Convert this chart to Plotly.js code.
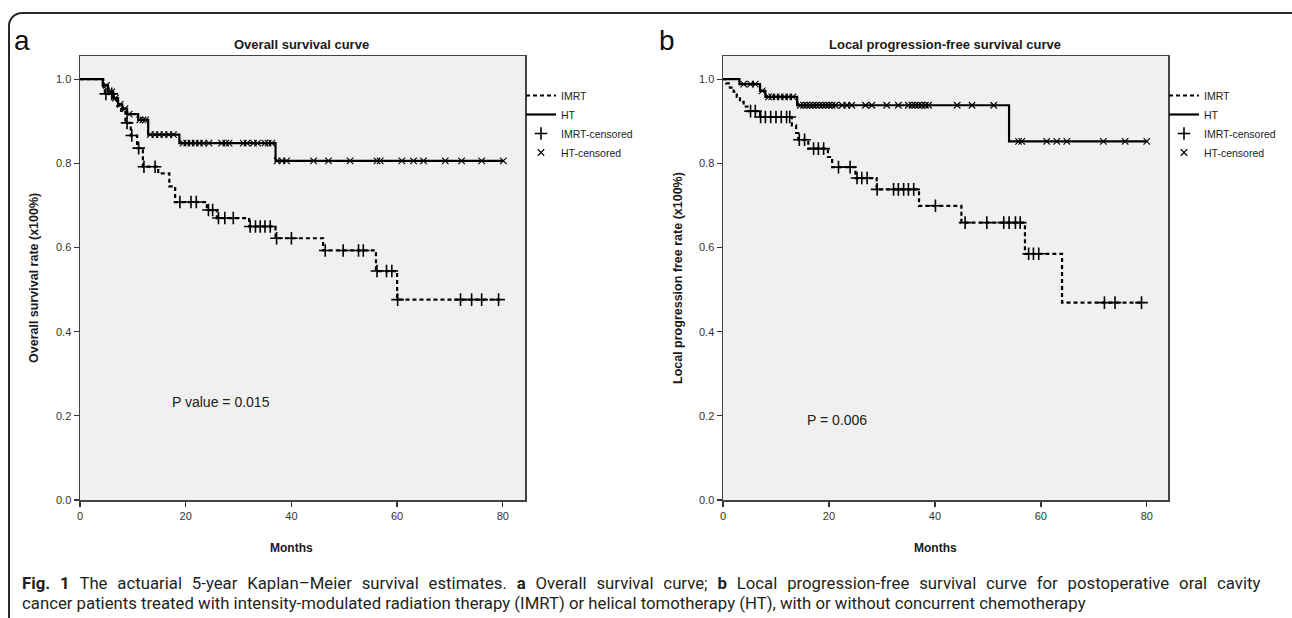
<!DOCTYPE html>
<html>
<head>
<meta charset="utf-8">
<script src="https://cdn.plot.ly/plotly-3.0.1.min.js"></script>
<style>
  html, body { margin:0; padding:0; width:1292px; height:618px; overflow:hidden; background:#fff; }
  #frame { position:absolute; left:8px; top:12px; width:1400px; height:700px; border:2px solid #2a2a2a; border-radius:14px; box-sizing:border-box; }
  #chart { position:absolute; left:0; top:0; width:1292px; height:618px; }
</style>
</head>
<body>
<div id="frame"></div>
<div id="chart"></div>
<script>
// ---- Data: (a) Overall survival ----
const osImrtTimes = [0, 4.4, 4.7, 6.4, 7.0, 7.8, 8.6, 9.6, 10.8, 11.9, 14.8, 16.9, 18.0, 24.0, 25.9, 32.0, 37.0, 46.0, 56.0, 60.0, 79.4];
const osImrtSurv  = [1.0, 0.982, 0.965, 0.950, 0.937, 0.922, 0.896, 0.866, 0.836, 0.792, 0.776, 0.745, 0.708, 0.689, 0.670, 0.650, 0.622, 0.593, 0.544, 0.476, 0.476];
const osImrtCensored = [4.9, 6.0, 8.9, 9.8, 11.1, 12.1, 14.2, 18.9, 21.0, 22.0, 24.3, 25.1, 26.2, 27.4, 29.0, 32.2, 33.2, 34.1, 35.0, 36.0, 37.2, 40.0, 46.4, 49.8, 52.7, 53.6, 56.2, 58.0, 59.0, 60.1, 72.0, 74.1, 76.0, 79.2];

const osHtTimes = [0, 4.3, 5.3, 6.3, 7.2, 8.0, 8.9, 11.0, 12.9, 18.8, 37.0, 80.1];
const osHtSurv  = [1.0, 0.985, 0.970, 0.955, 0.940, 0.930, 0.917, 0.903, 0.868, 0.848, 0.806, 0.806];
const osHtCensored = [5.0, 6.0, 6.7, 7.6, 8.5, 9.3, 11.3, 11.9, 12.4, 13.3, 14.2, 15.0, 15.9, 16.8, 17.7, 19.5, 20.2, 21.0, 21.8, 22.6, 23.4, 24.4, 26.8, 27.6, 28.2, 30.9, 31.6, 32.8, 33.6, 35.0, 35.6, 36.3, 37.3, 38.2, 39.1, 44.2, 47.0, 51.1, 56.2, 56.8, 60.9, 63.1, 65.0, 69.1, 72.2, 76.0, 80.1];

// ---- Data: (b) Local progression-free survival ----
const lpImrtTimes = [0, 0.6, 1.3, 2.0, 2.6, 3.2, 3.9, 4.6, 7.0, 13.0, 13.8, 14.2, 16.1, 19.8, 20.6, 25.0, 29.0, 37.0, 45.0, 57.0, 64.0, 79.4];
const lpImrtSurv  = [1.0, 0.99, 0.98, 0.97, 0.958, 0.946, 0.935, 0.924, 0.910, 0.890, 0.872, 0.856, 0.835, 0.815, 0.791, 0.765, 0.738, 0.699, 0.659, 0.585, 0.469, 0.469];
const lpImrtCensored = [5.2, 6.1, 7.1, 8.0, 9.0, 10.0, 11.0, 12.0, 12.6, 14.4, 15.4, 17.1, 18.0, 19.0, 21.8, 24.0, 25.3, 26.2, 27.2, 29.1, 32.2, 33.1, 34.1, 35.0, 36.0, 40.1, 45.7, 49.8, 53.0, 54.0, 55.2, 56.1, 57.7, 58.6, 59.6, 72.0, 74.0, 79.0];

const lpHtTimes = [0, 3.1, 7.0, 8.0, 14.0, 54.0, 80.0];
const lpHtSurv  = [1.0, 0.988, 0.972, 0.958, 0.938, 0.852, 0.852];
const lpHtCensored = [3.9, 5.2, 6.1, 7.4, 8.6, 9.2, 10.0, 10.8, 11.6, 12.4, 13.2, 14.6, 15.2, 15.8, 16.4, 17.0, 17.6, 18.2, 18.8, 19.4, 20.0, 20.6, 21.2, 22.5, 23.4, 24.3, 26.9, 28.1, 30.9, 33.1, 35.0, 35.7, 36.3, 36.9, 37.5, 38.2, 38.8, 44.2, 47.0, 51.1, 55.8, 56.4, 61.1, 63.0, 64.9, 71.8, 75.9, 80.0];

const seriesNames = ['IMRT', 'HT', 'IMRT-censored', 'HT-censored'];
const xTicks = [0, 20, 40, 60, 80];
const yTicks = [0, 0.2, 0.4, 0.6, 0.8, 1.0];
const panelTitles = ['Overall survival curve', 'Local progression-free survival curve'];
const yTitles = ['Overall survival rate (x100%)', 'Local progression free rate (x100%)'];
const pTexts = ['P value = 0.015', 'P = 0.006'];
const captionLine1 = '<b>Fig. 1</b> The actuarial 5-year Kaplan–Meier survival estimates. <b>a</b> Overall survival curve; <b>b</b> Local progression-free survival curve for postoperative oral cavity';
const captionLine2 = 'cancer patients treated with intensity-modulated radiation therapy (IMRT) or helical tomotherapy (HT), with or without concurrent chemotherapy';

// ---- helpers ----
const W = 1292, H = 618;
const px = v => v / W;
const py = v => 1 - v / H;
function survAt(times, surv, t) {
  let s = surv[0];
  for (let i = 0; i < times.length; i++) { if (times[i] <= t) s = surv[i]; }
  return s;
}
const dotted = '4px,3px';

function panel(xa, ya, leg, imrtT, imrtS, imrtC, htT, htS, htC) {
  return [
    {x: imrtT, y: imrtS, type:'scatter', mode:'lines', line:{shape:'hv', color:'#000', width:2.2, dash:dotted},
     name: seriesNames[0], xaxis: xa, yaxis: ya, legend: leg, hoverinfo:'skip'},
    {x: htT, y: htS, type:'scatter', mode:'lines', line:{shape:'hv', color:'#000', width:2.2},
     name: seriesNames[1], xaxis: xa, yaxis: ya, legend: leg, hoverinfo:'skip'},
    {x: imrtC, y: imrtC.map(t => survAt(imrtT, imrtS, t)), type:'scatter', mode:'markers',
     marker:{symbol:'cross-thin', size:9, line:{color:'#000', width:1.6}, color:'#000'},
     name: seriesNames[2], xaxis: xa, yaxis: ya, legend: leg, hoverinfo:'skip'},
    {x: htC, y: htC.map(t => survAt(htT, htS, t)), type:'scatter', mode:'markers',
     marker:{symbol:'x-thin', size:6.5, line:{color:'#000', width:1.1}, color:'#000'},
     name: seriesNames[3], xaxis: xa, yaxis: ya, legend: leg, hoverinfo:'skip'}
  ];
}

const data = [].concat(
  panel('x', 'y', 'legend', osImrtTimes, osImrtSurv, osImrtCensored, osHtTimes, osHtSurv, osHtCensored),
  panel('x2', 'y2', 'legend2', lpImrtTimes, lpImrtSurv, lpImrtCensored, lpHtTimes, lpHtSurv, lpHtCensored)
);

const tickFont = {family:'Liberation Sans, Arial, sans-serif', size:11, color:'#333'};
function xAxis(domain, range) {
  return {domain: domain, range: range, tickvals: xTicks, ticks:'outside', ticklen:5, tickwidth:1.3, tickcolor:'#333',
    showline:true, linecolor:'#444', linewidth:1.5, mirror:true, showgrid:false, zeroline:false, tickfont: tickFont, fixedrange:true};
}
function yAxis(domain, anchor) {
  return {domain: domain, range:[0, 1.055], tickvals: yTicks, tickformat:'.1f', ticks:'outside', ticklen:5, tickwidth:1.3, tickcolor:'#333',
    showline:true, linecolor:'#444', linewidth:1.5, mirror:true, showgrid:false, zeroline:false, tickfont: tickFont, anchor: anchor, fixedrange:true};
}
const yDom = [py(500), py(56)];
const legFont = {family:'Liberation Sans, Arial, sans-serif', size:10.5, color:'#222'};

const boldFont = (s) => ({family:'Liberation Sans, Arial, sans-serif', size:s, color:'#1a1a1a'});
const capFont = {family:'Roboto, sans-serif', size:16.75, color:'#231f20'};
// justify the first caption line by widening word gaps
const justified = captionLine1.replace(/ (?![^<]*>)/g, ' \u2004');

const annotations = [
  {text:'a', x:px(12), y:py(40), xref:'paper', yref:'paper', xanchor:'left', yanchor:'middle', showarrow:false, font:{family:'Liberation Sans, Arial', size:28, color:'#111'}},
  {text:'b', x:px(657), y:py(40), xref:'paper', yref:'paper', xanchor:'left', yanchor:'middle', showarrow:false, font:{family:'Liberation Sans, Arial', size:28, color:'#111'}},
  {text:'<b>'+panelTitles[0]+'</b>', x:px(301), y:py(44), xref:'paper', yref:'paper', xanchor:'center', yanchor:'middle', showarrow:false, font:boldFont(13)},
  {text:'<b>'+panelTitles[1]+'</b>', x:px(945), y:py(44), xref:'paper', yref:'paper', xanchor:'center', yanchor:'middle', showarrow:false, font:boldFont(13)},
  {text:'<b>'+yTitles[0]+'</b>', x:px(34), y:py(278), xref:'paper', yref:'paper', xanchor:'center', yanchor:'middle', textangle:-90, showarrow:false, font:boldFont(12.5)},
  {text:'<b>'+yTitles[1]+'</b>', x:px(678), y:py(278), xref:'paper', yref:'paper', xanchor:'center', yanchor:'middle', textangle:-90, showarrow:false, font:boldFont(12.5)},
  {text:'<b>Months</b>', x:px(291), y:py(548), xref:'paper', yref:'paper', xanchor:'center', yanchor:'middle', showarrow:false, font:boldFont(12)},
  {text:'<b>Months</b>', x:px(935), y:py(548), xref:'paper', yref:'paper', xanchor:'center', yanchor:'middle', showarrow:false, font:boldFont(12)},
  {text:pTexts[0], x:17.0, y:0.234, xref:'x', yref:'y', xanchor:'left', yanchor:'middle', showarrow:false, font:{family:'Liberation Sans, Arial', size:14, color:'#222'}},
  {text:pTexts[1], x:15.5, y:0.19, xref:'x2', yref:'y2', xanchor:'left', yanchor:'middle', showarrow:false, font:{family:'Liberation Sans, Arial', size:14, color:'#222'}},
  {text: justified, x:px(20), y:py(583), xref:'paper', yref:'paper', xanchor:'left', yanchor:'middle', showarrow:false, font:capFont},
  {text: captionLine2, x:px(20), y:py(603), xref:'paper', yref:'paper', xanchor:'left', yanchor:'middle', showarrow:false, font:capFont}
];

const layout = {
  width: W, height: H,
  margin: {l:0, r:0, t:0, b:0, pad:0},
  paper_bgcolor: 'rgba(0,0,0,0)',
  plot_bgcolor: '#f0f0f0',
  showlegend: true,
  xaxis: xAxis([px(80), px(525)], [0, 84.2]),
  yaxis: yAxis(yDom, 'x'),
  xaxis2: xAxis([px(723), px(1168)], [0, 84.0]),
  yaxis2: yAxis(yDom, 'x2'),
  legend: {x: px(521), y: py(81), xanchor:'left', yanchor:'top', bgcolor:'rgba(0,0,0,0)', font: legFont, itemwidth:30, tracegroupgap:0},
  legend2: {x: px(1164), y: py(81), xanchor:'left', yanchor:'top', bgcolor:'rgba(0,0,0,0)', font: legFont, itemwidth:30, tracegroupgap:0},
  annotations: annotations
};

Plotly.newPlot('chart', data, layout, {displayModeBar:false, staticPlot:true});
</script>
</body>
</html>
